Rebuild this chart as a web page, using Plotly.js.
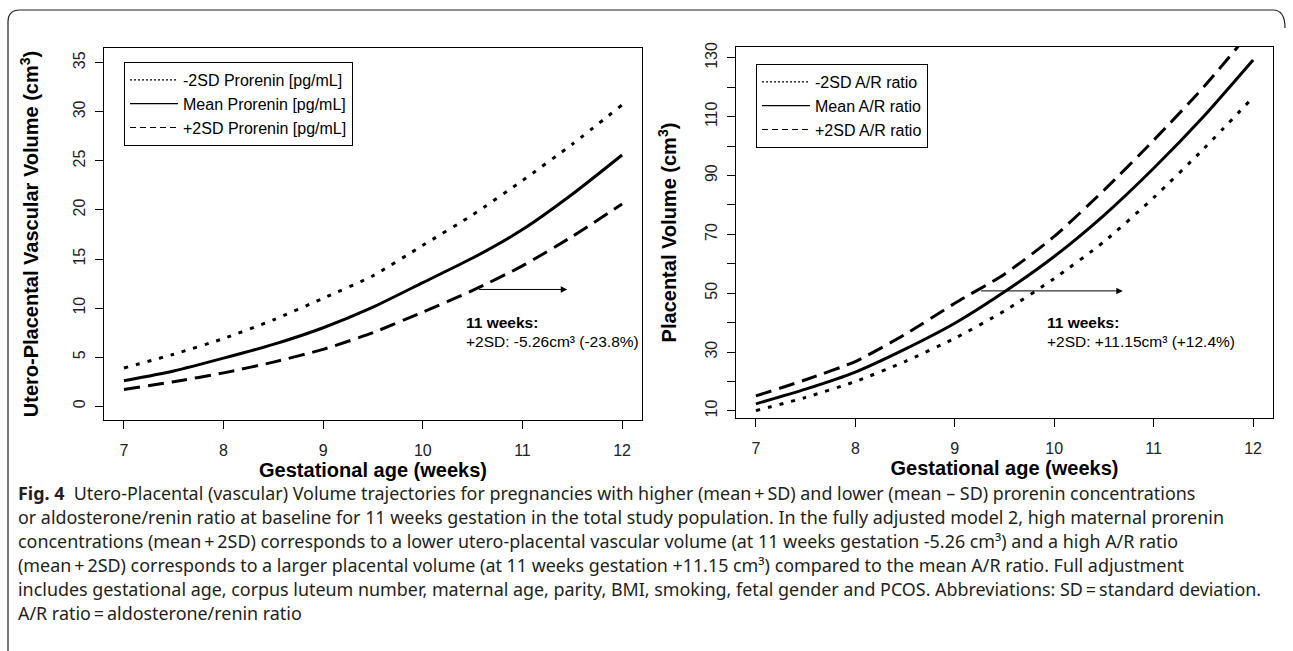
<!DOCTYPE html>
<html>
<head>
<meta charset="utf-8">
<script src="https://cdn.plot.ly/plotly-3.0.1.min.js"></script>
<style>
  html, body { margin: 0; padding: 0; background: #ffffff; }
  #chart { width: 1293px; height: 651px; }
</style>
</head>
<body>
<div id="chart"></div>
<script>
// ---- data ----
const weeks = [7, 7.5, 8, 8.5, 9, 9.5, 10, 10.5, 11, 11.5, 12];

// Left panel: utero-placental vascular volume (cm3) by prorenin level
const proreninMinus2SD = [3.9, 5.3, 6.9, 8.8, 11.0, 13.3, 16.4, 19.5, 23.0, 26.7, 30.7];
const proreninMean     = [2.6, 3.6, 4.9, 6.3, 8.0, 10.1, 12.6, 15.1, 18.0, 21.6, 25.6];
const proreninPlus2SD  = [1.7, 2.5, 3.4, 4.5, 5.8, 7.5, 9.6, 11.8, 14.3, 17.3, 20.6];

// Right panel: placental volume (cm3) by A/R ratio
const arMinus2SD = [10.1, 14.6, 20.0, 26.8, 34.7, 44.0, 55.0, 67.5, 82.5, 99.0, 116.6];
const arMean     = [12.4, 17.4, 23.2, 31.0, 39.8, 50.5, 62.5, 76.5, 92.5, 110.0, 129.3];
const arPlus2SD  = [15.1, 20.6, 26.8, 36.0, 46.6, 56.5, 69.3, 85.0, 102.0, 120.0, 140.0];

const seriesNamesLeft  = ['-2SD Prorenin [pg/mL]', 'Mean Prorenin [pg/mL]', '+2SD Prorenin [pg/mL]'];
const seriesNamesRight = ['-2SD A/R ratio', 'Mean A/R ratio', '+2SD A/R ratio'];

const xTicks = [7, 8, 9, 10, 11, 12];
const yTicksLeft = [0, 5, 10, 15, 20, 25, 30, 35];
const yTicksRightLabelled = [10, 30, 50, 70, 90, 110, 130];
const yTicksRightMinor = [20, 40, 60, 80, 100, 120];

const noteLeftHead = '11 weeks:';
const noteLeftBody = '+2SD: -5.26cm³ (-23.8%)';
const noteRightHead = '11 weeks:';
const noteRightBody = '+2SD: +11.15cm³ (+12.4%)';

const captionLines = [
  '<b>Fig. 4</b>  Utero-Placental (vascular) Volume trajectories for pregnancies with higher (mean\u2009+\u2009SD) and lower (mean – SD) prorenin concentrations',
  'or aldosterone/renin ratio at baseline for 11 weeks gestation in the total study population. In the fully adjusted model 2, high maternal prorenin',
  'concentrations (mean\u2009+\u20092SD) corresponds to a lower utero-placental vascular volume (at 11 weeks gestation -5.26 cm³) and a high A/R ratio',
  '(mean\u2009+\u20092SD) corresponds to a larger placental volume (at 11 weeks gestation +11.15 cm³) compared to the mean A/R ratio. Full adjustment',
  'includes gestational age, corpus luteum number, maternal age, parity, BMI, smoking, fetal gender and PCOS. Abbreviations: SD\u2009=\u2009standard deviation.',
  'A/R ratio\u2009=\u2009aldosterone/renin ratio'
];

// ---- layout helpers (pixel -> paper) ----
const W = 1293, H = 651;
const px = v => v / W;
const py = v => 1 - v / H;

const curveStyles = [
  {dash: '4px,8px', width: 3},
  {dash: 'solid', width: 3},
  {dash: '16px,8px', width: 3}
];
const legendStyles = [
  {dash: '2px,2px', width: 1.2},
  {dash: 'solid', width: 1.2},
  {dash: '6px,4px', width: 1.2}
];

function makeTraces(ys, names, xa, ya, legend) {
  const curves = ys.map((y, i) => ({
    x: weeks, y: y, type: 'scatter', mode: 'lines',
    name: names[i], xaxis: xa, yaxis: ya, showlegend: false,
    line: {color: '#000000', width: curveStyles[i].width, dash: curveStyles[i].dash, shape: 'spline', smoothing: 0.6},
    hoverinfo: 'skip'
  }));
  // legend keys (thin lines, as in the reference legend)
  const keys = names.map((n, i) => ({
    x: [null], y: [null], type: 'scatter', mode: 'lines',
    name: n, xaxis: xa, yaxis: ya, legend: legend, showlegend: true,
    line: {color: '#000000', width: legendStyles[i].width, dash: legendStyles[i].dash},
    hoverinfo: 'skip'
  }));
  return curves.concat(keys);
}

const traces = [
  ...makeTraces([proreninMinus2SD, proreninMean, proreninPlus2SD], seriesNamesLeft, 'x', 'y', 'legend'),
  ...makeTraces([arMinus2SD, arMean, arPlus2SD], seriesNamesRight, 'x2', 'y2', 'legend2')
];

const tickFont = {family: 'Liberation Sans, Arial, sans-serif', size: 16, color: '#222'};
const titleFont = {family: 'Liberation Sans, Arial, sans-serif', size: 20, color: '#000'};

const xAxisBase = {
  range: [6.8, 12.2], tickvals: xTicks, ticktext: xTicks.map(String),
  ticks: 'outside', ticklen: 8, tickwidth: 1, tickcolor: '#000',
  ticklabelstandoff: 8,
  showline: true, linecolor: '#000', linewidth: 1, mirror: true,
  showgrid: false, zeroline: false, fixedrange: true,
  tickfont: tickFont,
  title: {text: '<b>Gestational age (weeks)</b>', font: titleFont, standoff: 0}
};

const yAxisBase = {
  ticks: 'outside', ticklen: 8, tickwidth: 1, tickcolor: '#000', tickangle: -90,
  ticklabelstandoff: 4,
  showline: true, linecolor: '#000', linewidth: 1, mirror: true,
  showgrid: false, zeroline: false, fixedrange: true,
  tickfont: tickFont
};

const frameTop = 10, frameLeft = 8, frameRight = 1285, r = 12;
const framePath =
  'M ' + px(frameLeft) + ' ' + py(H + 5) +
  ' L ' + px(frameLeft) + ' ' + py(frameTop + r) +
  ' Q ' + px(frameLeft) + ' ' + py(frameTop) + ' ' + px(frameLeft + r) + ' ' + py(frameTop) +
  ' L ' + px(frameRight - r) + ' ' + py(frameTop) +
  ' Q ' + px(frameRight) + ' ' + py(frameTop) + ' ' + px(frameRight) + ' ' + py(frameTop + r + 6);

const captionFont = {family: 'Noto Sans, Open Sans, sans-serif', size: 17.9, color: '#231f20'};
const captionY0 = 493, captionStep = 24;

const noteFont = {family: 'Liberation Sans, Arial', size: 15.5, color: '#000'};

const annotations = [
  // arrows
  {xref: 'x', yref: 'y', axref: 'x', ayref: 'y', x: 11.45, y: 11.9, ax: 10.55, ay: 11.9,
   text: '', showarrow: true, arrowhead: 2, arrowsize: 1.3, arrowwidth: 1, arrowcolor: '#000'},
  {xref: 'x2', yref: 'y2', axref: 'x2', ayref: 'y2', x: 10.69, y: 50.8, ax: 9.25, ay: 50.8,
   text: '', showarrow: true, arrowhead: 2, arrowsize: 1.3, arrowwidth: 1, arrowcolor: '#000'},
  // notes
  {xref: 'x', yref: 'y', x: 10.41, y: 8.5, xanchor: 'left', yanchor: 'middle', showarrow: false,
   text: '<b>' + noteLeftHead + '</b>', font: noteFont},
  {xref: 'x', yref: 'y', x: 10.41, y: 6.6, xanchor: 'left', yanchor: 'middle', showarrow: false,
   text: noteLeftBody, font: noteFont},
  {xref: 'x2', yref: 'y2', x: 9.91, y: 39.9, xanchor: 'left', yanchor: 'middle', showarrow: false,
   text: '<b>' + noteRightHead + '</b>', font: noteFont},
  {xref: 'x2', yref: 'y2', x: 9.91, y: 33.6, xanchor: 'left', yanchor: 'middle', showarrow: false,
   text: noteRightBody, font: noteFont},
  // caption
  ...captionLines.map((t, i) => ({
    xref: 'paper', yref: 'paper', x: px(16), y: py(captionY0 + i * captionStep),
    xanchor: 'left', yanchor: 'middle', showarrow: false, align: 'left',
    text: t, font: captionFont
  }))
];

const legendBase = {
  bgcolor: '#ffffff', bordercolor: '#000', borderwidth: 1,
  font: {family: 'Liberation Sans, Arial', size: 16, color: '#000'},
  xanchor: 'left', yanchor: 'top', itemwidth: 48, tracegroupgap: 0,
  itemclick: false, itemdoubleclick: false
};

const layout = {
  width: W, height: H,
  margin: {l: 0, r: 0, t: 0, b: 0},
  paper_bgcolor: '#ffffff', plot_bgcolor: '#ffffff',
  showlegend: true,
  legend: Object.assign({}, legendBase, {x: px(124), y: py(62)}),
  legend2: Object.assign({}, legendBase, {x: px(756), y: py(64)}),
  xaxis: Object.assign({}, xAxisBase, {domain: [px(104), px(642)], anchor: 'y'}),
  yaxis: Object.assign({}, yAxisBase, {
    domain: [py(420), py(48)], anchor: 'x',
    range: [-1.4, 36.5], tickvals: yTicksLeft, ticktext: yTicksLeft.map(String),
    title: {text: '<b>Utero-Placental Vascular Volume (cm<sup>3</sup>)</b>', font: titleFont, standoff: 26}
  }),
  xaxis2: Object.assign({}, xAxisBase, {domain: [px(736), px(1273)], anchor: 'y2'}),
  yaxis2: Object.assign({}, yAxisBase, {
    domain: [py(418), py(47)], anchor: 'x2',
    range: [7.6, 133.7], tickvals: yTicksRightLabelled, ticktext: yTicksRightLabelled.map(String),
    minor: {tickvals: yTicksRightMinor, ticks: 'outside', ticklen: 8, tickwidth: 1, tickcolor: '#000'},
    title: {text: '<b>Placental Volume (cm<sup>3</sup>)</b>', font: titleFont, standoff: 20}
  }),
  shapes: [
    {type: 'path', xref: 'paper', yref: 'paper', path: framePath,
     line: {color: '#231f20', width: 1.2}, fillcolor: 'rgba(0,0,0,0)'}
  ],
  annotations: annotations
};

Plotly.newPlot('chart', traces, layout, {displayModeBar: false, staticPlot: true});
</script>
</body>
</html>
